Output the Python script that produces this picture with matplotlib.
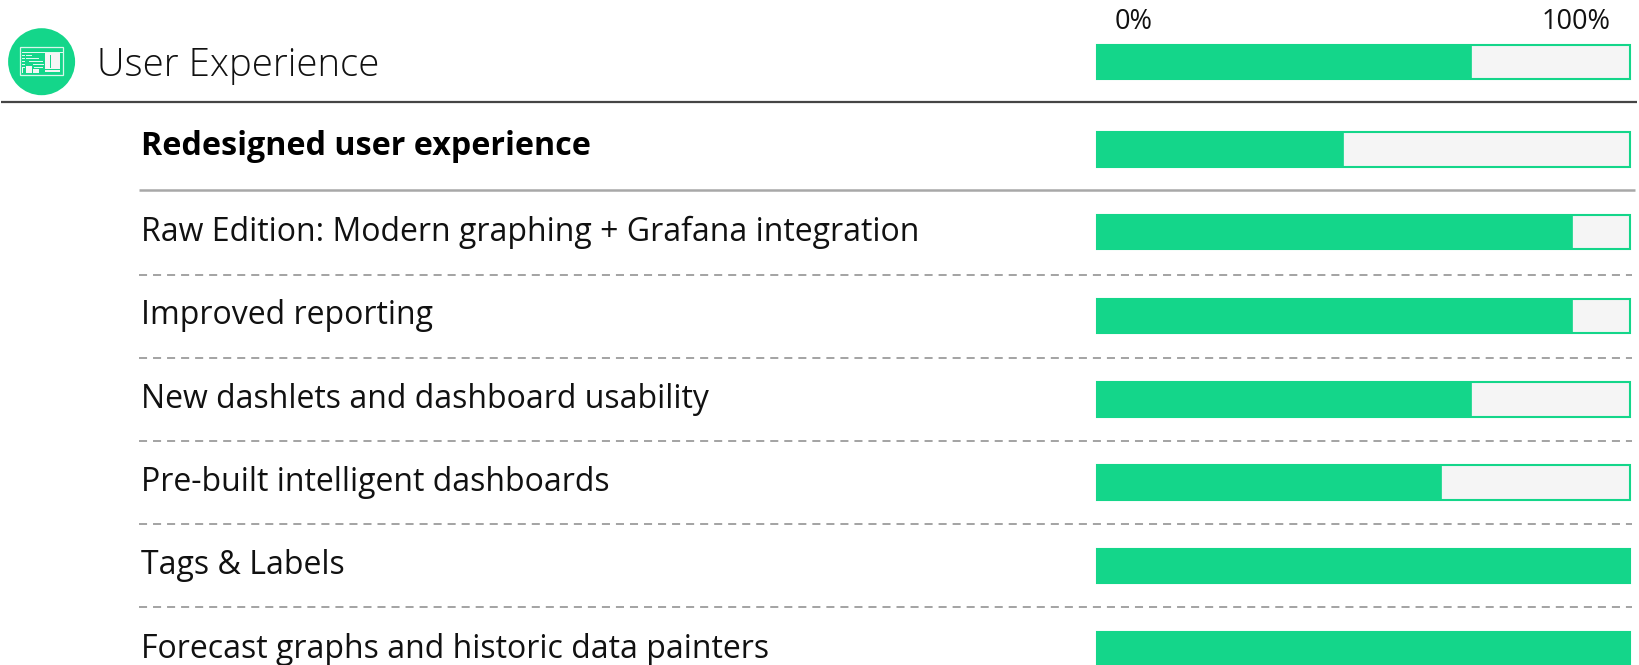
import matplotlib
matplotlib.use("Agg")
import matplotlib.pyplot as plt
from matplotlib.patches import Circle, Rectangle

plt.rcParams['font.family'] = ['Open Sans', 'DejaVu Sans']
plt.rcParams['lines.scale_dashes'] = False

# data
section_title = "User Experience"
section_value = 70
labels = [
    "Redesigned user experience",
    "Raw Edition: Modern graphing + Grafana integration",
    "Improved reporting",
    "New dashlets and dashboard usability",
    "Pre-built intelligent dashboards",
    "Tags & Labels",
    "Forecast graphs and historic data painters",
]
values = [46, 89, 89, 70, 64.5, 100, 100]
axis_labels = ["0%", "100%"]

GREEN = '#14d68a'
TRACK = '#f5f5f5'
W, H = 1640, 665
BAR_L, BAR_R = 1097.5, 1630.5
BAR_H = 34.5

# y centres of the rows, in pixels
header_y = 62
row_y = [149.5, 232, 316, 399.5, 482.5, 566, 649]
rule_y = [275, 358, 441, 524, 607]

fig = plt.figure(figsize=(W / 100, H / 100), dpi=100)

# page axes works in pixels, used for text and rules
ax = fig.add_axes([0, 0, 1, 1])
ax.set_xlim(0, W)
ax.set_ylim(H, 0)
ax.axis('off')

# bars get their own axes: x is percent, y stays in pixels
ax_bar = fig.add_axes([BAR_L / W, 0, (BAR_R - BAR_L) / W, 1])
ax_bar.set_xlim(0, 100)
ax_bar.set_ylim(H, 0)
ax_bar.axis('off')


def draw_bar(y, value):
    ax_bar.barh(y, 100, height=BAR_H, color=TRACK, edgecolor=GREEN, linewidth=1.5, clip_on=False)
    ax_bar.barh(y, value, height=BAR_H, color=GREEN, edgecolor=GREEN, linewidth=0.5, clip_on=False)


draw_bar(header_y, section_value)
for y, v in zip(row_y, values):
    draw_bar(y, v)

# rules
ax.plot([1, 1637], [102, 102], color='#454545', lw=1.6, solid_capstyle='butt')
ax.plot([139, 1635], [190, 190], color='#a8a8a8', lw=1.8, solid_capstyle='butt')
for y in rule_y:
    ax.plot([139, 1632], [y, y], color='#a3a3a3', lw=1.4, linestyle=(0, (5.8, 4.3)), dash_capstyle='butt')

# text
ax.text(97, header_y + 4, section_title, fontsize=27.6, color='#111111', va='center', ha='left', fontweight='light')
ax.text(1153, 22, axis_labels[0], fontsize=19.5, color='#111111', va='center', ha='right')
ax.text(1611, 22, axis_labels[1], fontsize=19.5, color='#111111', va='center', ha='right')
for i, (y, lab) in enumerate(zip(row_y, labels)):
    ax.text(141, y - 3 if i == 0 else y, lab, fontsize=23.2 if i == 0 else 23,
            color='#000000' if i == 0 else '#111111',
            va='center', ha='left', fontweight='bold' if i == 0 else 'normal')

# round icon with a small dashboard window inside
ax.add_patch(Circle((41.6, 61.7), 33.5, color=GREEN, lw=0))
ax.add_patch(Rectangle((20, 47), 43, 28, fill=False, ec='#d8f7ea', lw=0.9))
ax.add_patch(Rectangle((45, 53), 15, 19, color='#f5f5f5', lw=0))
ax.add_patch(Rectangle((50, 55), 1.2, 13, color=GREEN, lw=0))
ax.add_patch(Rectangle((45, 69), 15, 1, color=GREEN, lw=0))
ax.plot([22, 62], [51.5, 51.5], color='#e8fbf3', lw=0.7)
for y0, x0, x1 in [(55, 26, 31), (58, 26, 38), (61, 29, 42), (64, 33, 43), (67, 34, 42)]:
    ax.plot([x0, x1], [y0, y0], color='#e8fbf3', lw=0.7)
for y0 in [55, 58, 61, 64, 67]:
    ax.plot([22.5, 24], [y0, y0], color='#e8fbf3', lw=0.7)
ax.add_patch(Rectangle((22, 67), 1.5, 6, color='#f5f5f5', lw=0))
ax.add_patch(Rectangle((26, 66), 6, 7, color='#f5f5f5', lw=0))
ax.add_patch(Rectangle((33, 69), 6, 4, color='#f5f5f5', lw=0))

fig.savefig('out.png', dpi=100, facecolor='white')
